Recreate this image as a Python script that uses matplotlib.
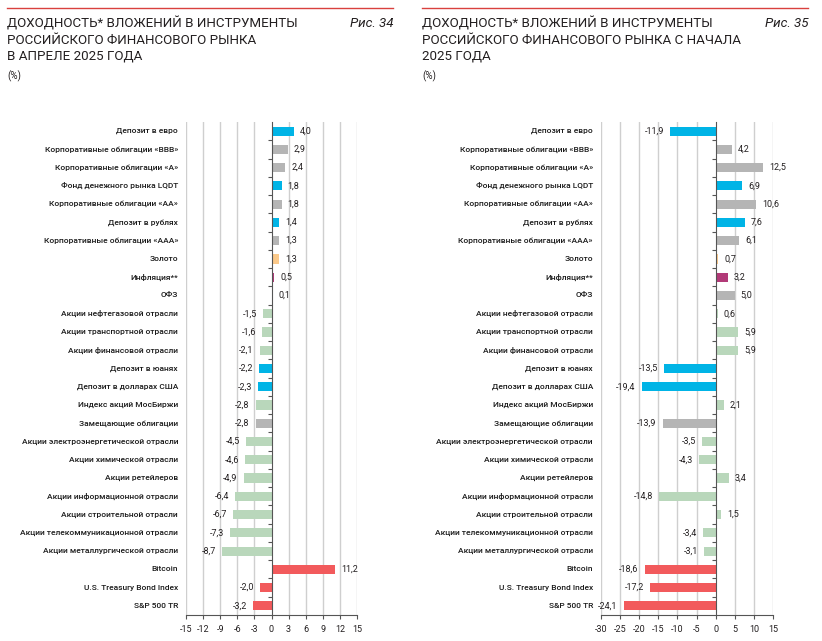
import matplotlib
matplotlib.use('Agg')
import matplotlib.pyplot as plt
from matplotlib.transforms import blended_transform_factory

plt.rcParams['font.family'] = ['Roboto', 'DejaVu Sans']

# Categories (top to bottom)
categories = [
    'Депозит в евро', 'Корпоративные облигации «BBB»', 'Корпоративные облигации «A»',
    'Фонд денежного рынка LQDT', 'Корпоративные облигации «AA»', 'Депозит в рублях',
    'Корпоративные облигации «AAA»', 'Золото', 'Инфляция**', 'ОФЗ',
    'Акции нефтегазовой отрасли', 'Акции транспортной отрасли', 'Акции финансовой отрасли',
    'Депозит в юанях', 'Депозит в долларах США', 'Индекс акций МосБиржи',
    'Замещающие облигации', 'Акции электроэнергетической отрасли', 'Акции химической отрасли',
    'Акции ретейлеров', 'Акции информационной отрасли', 'Акции строительной отрасли',
    'Акции телекоммуникационной отрасли', 'Акции металлургической отрасли',
    'Bitcoin', 'U.S. Treasury Bond Index', 'S&P 500 TR',
]

# Fig. 34 - April 2025
april_values = [4.0, 2.9, 2.4, 1.8, 1.8, 1.4, 1.3, 1.3, 0.5, 0.1,
                -1.5, -1.6, -2.1, -2.2, -2.3, -2.8, -2.8, -4.5, -4.6, -4.9,
                -6.4, -6.7, -7.3, -8.7, 11.2, -2.0, -3.2]
april_types = ['dep', 'bond', 'bond', 'dep', 'bond', 'dep', 'bond', 'gold', 'infl', 'bond',
               'eq', 'eq', 'eq', 'dep', 'dep', 'eq', 'bond', 'eq', 'eq', 'eq',
               'eq', 'eq', 'eq', 'eq', 'for', 'for', 'for']

# Fig. 35 - since start of 2025
ytd_values = [-11.9, 4.2, 12.5, 6.9, 10.6, 7.6, 6.1, 0.7, 3.2, 5.0,
              0.6, 5.9, 5.9, -13.5, -19.4, 2.1, -13.9, -3.5, -4.3, 3.4,
              -14.8, 1.5, -3.4, -3.1, -18.6, -17.2, -24.1]
ytd_types = april_types

type_colors = {
    'dep': '#00B4E6',
    'bond': '#B5B5B5',
    'gold': '#FBC98A',
    'infl': '#B23A78',
    'eq': '#B9D7BB',
    'for': '#F25A5C',
}

W, H = 822, 641
fig = plt.figure(figsize=(W / 100, H / 100), dpi=100)

txt_color = '#231F20'


def draw_panel(x_left, x_right, values, types, xlim, xticks, title, fig_no, head_x0, head_x1):
    ax = fig.add_axes([x_left / W, 1 - 615 / H, (x_right - x_left) / W, (615 - 122) / H])
    n = len(categories)
    y = list(range(n))
    colors = [type_colors[t] for t in types]
    ax.barh(y, values, height=0.5, color=colors, zorder=3)
    ax.set_xlim(*xlim)
    ax.set_ylim(n - 0.5, -0.5)
    ax.set_xticks(xticks)
    ax.set_xticklabels([str(t) for t in xticks], fontsize=6.5, color=txt_color)
    ax.tick_params(axis='x', length=3, width=0.8, color='#555555', pad=4)
    for t in xticks:
        if t != 0:
            ax.axvline(t, color='#CFCFCF', lw=1, zorder=1)
    for s in ['top', 'right']:
        ax.spines[s].set_visible(False)
    ax.spines['bottom'].set_color('#555555')
    ax.spines['left'].set_position(('data', 0))
    ax.spines['left'].set_color('#555555')
    ax.spines['left'].set_zorder(4)
    ax.set_yticks([i + 0.5 for i in range(n - 1)])
    ax.set_yticklabels([])
    ax.tick_params(axis='y', length=3, width=0.8, color='#555555')

    span = xlim[1] - xlim[0]
    off = span * 0.035
    for yi, v in zip(y, values):
        lab = f'{v:.1f}'.replace('.', ',')
        if v >= 0:
            ax.text(v + off, yi, lab, ha='left', va='center', fontsize=6.5, color=txt_color, zorder=5)
        else:
            ax.text(v - off, yi, lab, ha='right', va='center', fontsize=6.5, color=txt_color, zorder=5)

    tr = blended_transform_factory(fig.transFigure, ax.transData)
    for yi, c in zip(y, categories):
        ax.text((x_left - 8) / W, yi, c, transform=tr, ha='right', va='center',
                fontsize=6, fontweight='medium', color='#1A1A1A')

    # header
    fig.add_artist(plt.Line2D([head_x0 / W, head_x1 / W], [1 - 8 / H, 1 - 8 / H],
                              color='#D9413E', lw=1))
    fig.text(head_x0 / W, 1 - 17 / H, title, ha='left', va='top', fontsize=9.6,
             color=txt_color, linespacing=1.3)
    fig.text(head_x1 / W, 1 - 17 / H, fig_no, ha='right', va='top', fontsize=9.6,
             style='italic', color=txt_color)
    fig.text(head_x0 / W, 1 - 70 / H, '(%)', ha='left', va='top', fontsize=7, color=txt_color)


draw_panel(186, 357, april_values, april_types, (-15, 15), list(range(-15, 16, 3)),
           'ДОХОДНОСТЬ* ВЛОЖЕНИЙ В ИНСТРУМЕНТЫ\nРОССИЙСКОГО ФИНАНСОВОГО РЫНКА\nВ АПРЕЛЕ 2025 ГОДА',
           'Рис. 34', 7, 393)
draw_panel(601, 773, ytd_values, ytd_types, (-30, 15), list(range(-30, 16, 5)),
           'ДОХОДНОСТЬ* ВЛОЖЕНИЙ В ИНСТРУМЕНТЫ\nРОССИЙСКОГО ФИНАНСОВОГО РЫНКА С НАЧАЛА\n2025 ГОДА',
           'Рис. 35', 422, 808)

fig.savefig('out.png', dpi=100, facecolor='white')
